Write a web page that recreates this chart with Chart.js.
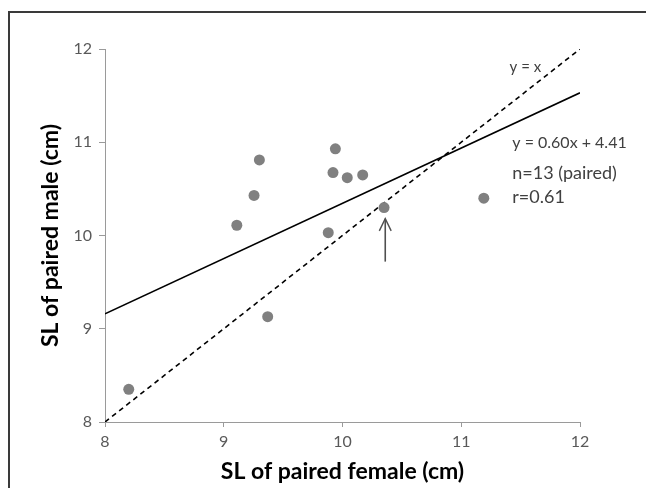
<!DOCTYPE html>
<html>
<head>
<meta charset="utf-8">
<script src="https://cdn.jsdelivr.net/npm/chart.js@4"></script>
<style>
  html, body { margin: 0; padding: 0; background: #fff; overflow: hidden; }
  #wrap { position: relative; width: 646px; height: 488px; }
  #frame { position: absolute; left: 8px; top: 11px; width: 700px; height: 600px;
           border-left: 2px solid #3a3a3a; border-top: 2px solid #3a3a3a; }
  #myChart { position: absolute; left: 0; top: 0; }
</style>
</head>
<body>
<div id="wrap">
  <div id="frame"></div>
  <canvas id="myChart" width="646" height="488"></canvas>
</div>
<script>
// SL of paired female (x) vs paired male (y)
let femaleSL = [8.20, 9.11, 9.255, 9.30, 9.37, 9.88, 9.92, 9.94, 10.04, 10.17, 10.35, 11.19];
let maleSL   = [8.35, 10.11, 10.43, 10.81, 9.13, 10.03, 10.675, 10.93, 10.62, 10.65, 10.30, 10.40];

// fitted line y = 0.60x + 4.41, endpoints as drawn
let fitX = [8, 12];
let fitY = [9.16, 11.53];

// y = x reference line
let idX = [8, 12];
let idY = [8, 12];

// arrow pointing to the overlapping pair
let arrowX = [10.36, 10.36];
let arrowY = [9.72, 10.18];
let headX = [10.31, 10.36, 10.41];
let headY = [10.05, 10.18, 10.05];

// notes on the chart: text, x, y (in data units), font size, align
let noteText  = ["y = x", "y = 0.60x + 4.41", "n=13 (paired)", "r=0.61"];
let noteX     = [11.54, 11.43, 11.43, 11.43];
let noteY     = [11.81, 10.99, 10.67, 10.41];
let noteSize  = [15, 16, 18, 18];
let noteAlign = ["center", "left", "left", "left"];

let xTicks = [8, 9, 10, 11, 12];
let yTicks = [8, 9, 10, 11, 12];

function pairs(xs, ys) {
    let out = [];
    for (let i = 0; i < xs.length; i++) {
        out.push({x: xs[i], y: ys[i]});
    }
    return out;
}

const fontFam = "Lato, 'Open Sans', sans-serif";

// draws the text notes next to the lines
const notesPlugin = {
    id: 'notes',
    afterDatasetsDraw(chart) {
        let ctx = chart.ctx;
        let xs = chart.scales.x, ys = chart.scales.y;
        ctx.save();
        ctx.fillStyle = '#404040';
        ctx.textBaseline = 'middle';
        for (let i = 0; i < noteText.length; i++) {
            ctx.font = noteSize[i] + 'px ' + fontFam;
            ctx.textAlign = noteAlign[i];
            ctx.fillText(noteText[i], xs.getPixelForValue(noteX[i]), ys.getPixelForValue(noteY[i]));
        }
        ctx.restore();
    }
};

const axisGray = '#9a9a9a';
const tickFont = {family: fontFam, size: 16};

let ctx = document.getElementById('myChart').getContext('2d');
let myChart = new Chart(ctx, {
    type: 'scatter',
    data: {
        datasets: [
            {
                data: pairs(femaleSL, maleSL),
                backgroundColor: '#808080',
                borderWidth: 0,
                pointRadius: 5.5,
                order: 0
            },
            {
                data: pairs(fitX, fitY),
                showLine: true,
                borderColor: '#000',
                borderWidth: 1.6,
                pointRadius: 0,
                order: 1
            },
            {
                data: pairs(idX, idY),
                showLine: true,
                borderColor: '#000',
                borderWidth: 1.6,
                borderDash: [5, 4],
                pointRadius: 0,
                order: 2
            },
            {
                data: pairs(arrowX, arrowY),
                showLine: true,
                borderColor: '#505050',
                borderWidth: 1.6,
                pointRadius: 0,
                order: 3
            },
            {
                data: pairs(headX, headY),
                showLine: true,
                borderColor: '#505050',
                borderWidth: 1.4,
                pointRadius: 0,
                order: 4
            }
        ]
    },
    options: {
        responsive: false,
        animation: false,
        layout: {padding: {left: 20, top: 49, right: 66, bottom: 0}},
        plugins: {
            legend: {display: false},
            tooltip: {enabled: false}
        },
        scales: {
            x: {
                type: 'linear',
                min: 8,
                max: 12,
                afterBuildTicks: (s) => { s.ticks = xTicks.map(v => ({value: v})); },
                afterFit: (s) => { s.height = 66; },
                ticks: {color: '#595959', font: tickFont, padding: 5},
                grid: {display: true, drawOnChartArea: false, tickLength: 5, color: axisGray},
                border: {color: axisGray, width: 1},
                title: {
                    display: true,
                    text: 'SL of paired female (cm)',
                    color: '#000',
                    font: {family: fontFam, size: 23, weight: 'bold'},
                    padding: {top: 0, bottom: 3}
                }
            },
            y: {
                type: 'linear',
                min: 8,
                max: 12,
                afterBuildTicks: (s) => { s.ticks = yTicks.map(v => ({value: v})); },
                afterFit: (s) => { s.width = 85; },
                ticks: {color: '#595959', font: tickFont, padding: 7},
                grid: {display: true, drawOnChartArea: false, tickLength: 6, color: axisGray},
                border: {color: axisGray, width: 1},
                title: {
                    display: true,
                    text: 'SL of paired male (cm)',
                    color: '#000',
                    font: {family: fontFam, size: 23, weight: 'bold'},
                    padding: {top: 17, bottom: 0}
                }
            }
        }
    },
    plugins: [notesPlugin]
});
</script>
</body>
</html>
